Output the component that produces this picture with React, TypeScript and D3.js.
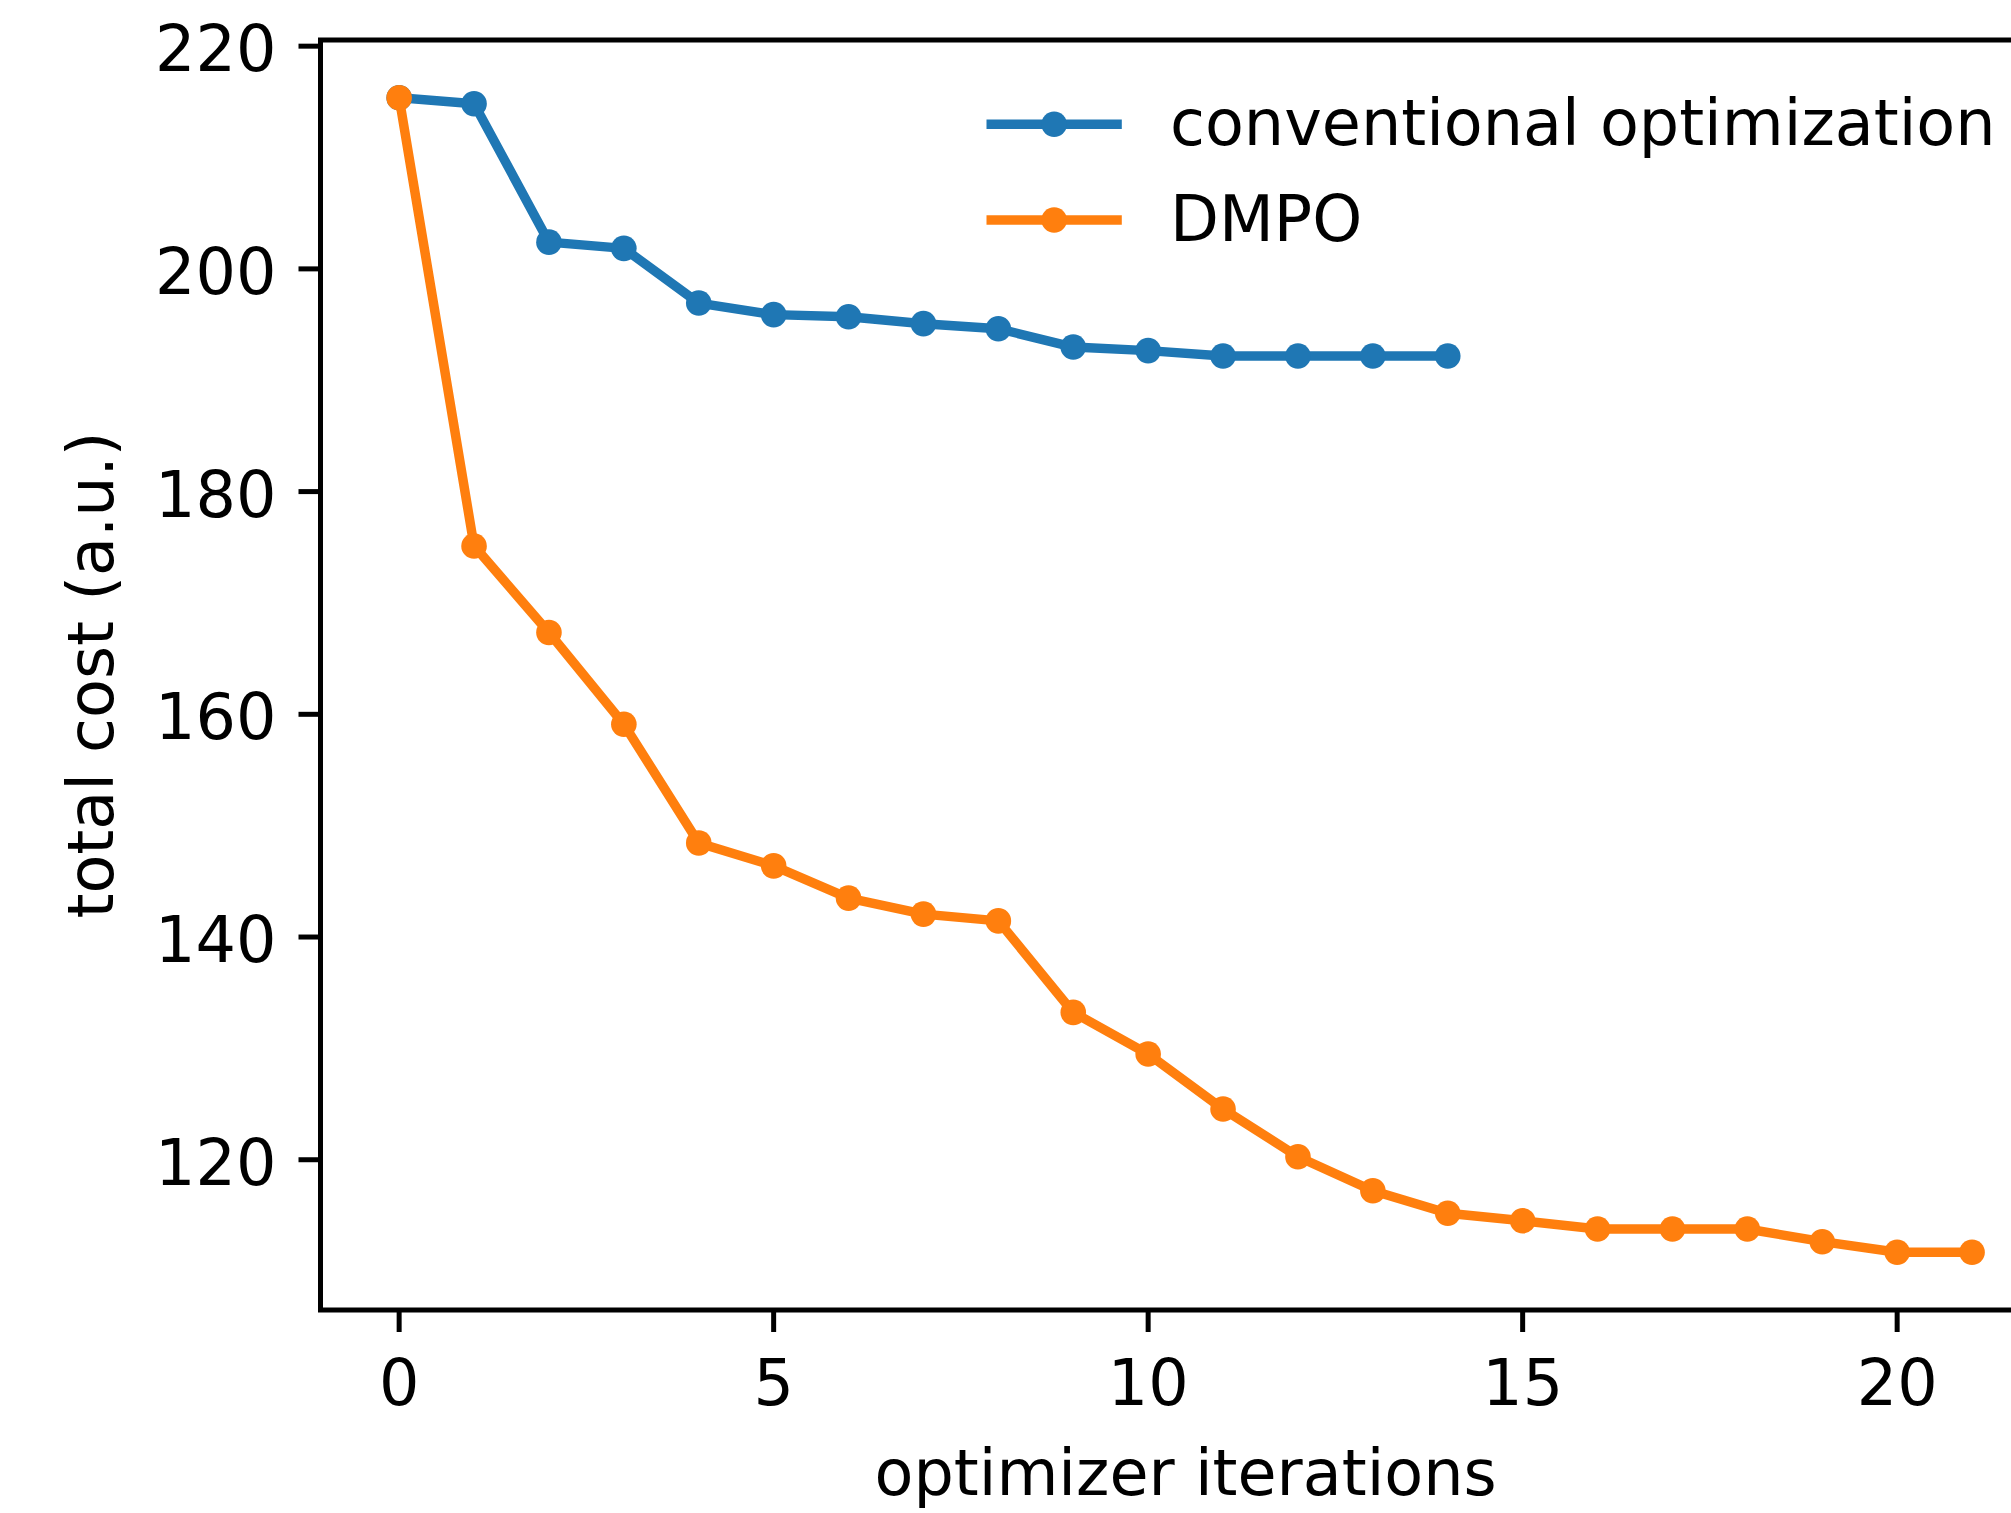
import React from "react";
import * as d3 from "d3";

const convIterations = [0, 1, 2, 3, 4, 5, 6, 7, 8, 9, 10, 11, 12, 13, 14];
const convCost = [215.37, 214.83, 202.4, 201.84, 196.93, 195.89, 195.7, 195.08, 194.63, 192.98, 192.66, 192.18, 192.18, 192.18, 192.18];

const dmpoIterations = [0, 1, 2, 3, 4, 5, 6, 7, 8, 9, 10, 11, 12, 13, 14, 15, 16, 17, 18, 19, 20, 21];
const dmpoCost = [215.37, 175.12, 167.34, 159.11, 148.45, 146.39, 143.49, 142.06, 141.45, 133.23, 129.49, 124.55, 120.27, 117.22, 115.19, 114.52, 113.78, 113.78, 113.78, 112.64, 111.69, 111.69];

const xTicks = [0, 5, 10, 15, 20];
const yTicks = [120, 140, 160, 180, 200, 220];

const seriesNames = ["conventional optimization", "DMPO"];
const seriesColors = ["#1f77b4", "#ff7f0e"];

const xLabel = "optimizer iterations";
const yLabel = "total cost (a.u.)";

const W = 2011;
const H = 1513;
const PT = 6.3; // px per point
const FONT = "'DejaVu Sans', sans-serif";
const FS = 63.6;

const box = { left: 320.5, right: 2050.7, top: 40, bottom: 1310 };

function padded(ext: [number, number]): [number, number] {
  const d = (ext[1] - ext[0]) * 0.05;
  return [ext[0] - d, ext[1] + d];
}

export default function App() {
  const allX = [...convIterations, ...dmpoIterations];
  const allY = [...convCost, ...dmpoCost];
  const x = d3.scaleLinear().domain(padded(d3.extent(allX) as [number, number])).range([box.left, box.right]);
  const y = d3.scaleLinear().domain(padded(d3.extent(allY) as [number, number])).range([box.bottom, box.top]);

  const series = [
    { name: seriesNames[0], color: seriesColors[0], xs: convIterations, ys: convCost },
    { name: seriesNames[1], color: seriesColors[1], xs: dmpoIterations, ys: dmpoCost },
  ];

  const line = d3
    .line<[number, number]>()
    .x((d) => x(d[0]))
    .y((d) => y(d[1]));

  const lw = 1.5 * PT;
  const mr = 12.8;
  const tickLen = 22;
  const tickW = 5;

  const legX0 = 986.5 + lw / 2;
  const legX1 = 1121.8 - lw / 2;
  const legY = [124.3, 220];
  const legTextX = 1170;

  return (
    <svg
      width={W}
      height={H}
      viewBox={`0 0 ${W} ${H}`}
      style={{ position: "absolute", left: 0, top: 0, display: "block", background: "#fff" }}
      fontFamily={FONT}
    >
      <rect x={0} y={0} width={W} height={H} fill="#fff" />
      <defs>
        <clipPath id="plotclip">
          <rect x={box.left} y={box.top} width={box.right - box.left} height={box.bottom - box.top} />
        </clipPath>
      </defs>

      {/* data */}
      <g clipPath="url(#plotclip)">
        {series.map((s) => {
          const pts = s.xs.map((v, i) => [v, s.ys[i]] as [number, number]);
          return (
            <g key={s.name}>
              <path
                d={line(pts) || ""}
                fill="none"
                stroke={s.color}
                strokeWidth={lw}
                strokeLinecap="square"
                strokeLinejoin="round"
              />
              {pts.map((p, i) => (
                <circle key={i} cx={x(p[0])} cy={y(p[1])} r={mr} fill={s.color} />
              ))}
            </g>
          );
        })}
      </g>

      {/* spines */}
      <rect
        x={box.left}
        y={box.top}
        width={box.right - box.left}
        height={box.bottom - box.top}
        fill="none"
        stroke="#000"
        strokeWidth={tickW}
        strokeLinejoin="miter"
      />

      {/* x ticks */}
      {xTicks.map((t) => (
        <g key={`x${t}`}>
          <line x1={x(t)} x2={x(t)} y1={box.bottom} y2={box.bottom + tickLen} stroke="#000" strokeWidth={tickW} />
          <text x={x(t)} y={box.bottom + 95} textAnchor="middle" fontSize={FS} fill="#000">
            {t}
          </text>
        </g>
      ))}

      {/* y ticks */}
      {yTicks.map((t) => (
        <g key={`y${t}`}>
          <line x1={box.left - tickLen} x2={box.left} y1={y(t)} y2={y(t)} stroke="#000" strokeWidth={tickW} />
          <text x={box.left - tickLen - 22} y={y(t) + 25} textAnchor="end" fontSize={FS} fill="#000">
            {t}
          </text>
        </g>
      ))}

      {/* axis labels */}
      <text x={(box.left + box.right) / 2} y={1495} textAnchor="middle" fontSize={FS} fill="#000">
        {xLabel}
      </text>
      <text
        transform={`translate(113, ${(box.top + box.bottom) / 2}) rotate(-90)`}
        textAnchor="middle"
        fontSize={FS}
        fill="#000"
      >
        {yLabel}
      </text>

      {/* legend */}
      {series.map((s, i) => (
        <g key={`leg${i}`}>
          <line
            x1={legX0}
            x2={legX1}
            y1={legY[i]}
            y2={legY[i]}
            stroke={s.color}
            strokeWidth={lw}
            strokeLinecap="square"
          />
          <circle cx={(legX0 + legX1) / 2} cy={legY[i]} r={mr} fill={s.color} />
          <text x={legTextX} y={legY[i] + 21} fontSize={FS} fill="#000">
            {s.name}
          </text>
        </g>
      ))}
    </svg>
  );
}
